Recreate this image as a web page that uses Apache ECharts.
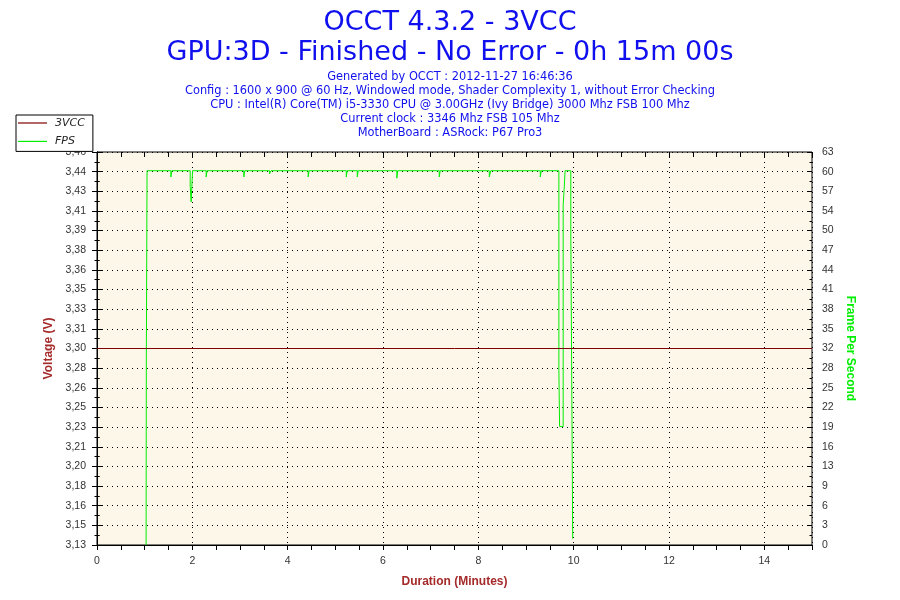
<!DOCTYPE html>
<html><head><meta charset="utf-8">
<script src="https://cdn.jsdelivr.net/npm/echarts@6/dist/echarts.min.js"></script>
<style>html,body{margin:0;padding:0;background:#fff}#c{width:900px;height:600px}</style>
</head><body><div id="c"></div>
<script>
// ---- data ----
const titleLines = ['OCCT 4.3.2 - 3VCC', 'GPU:3D - Finished - No Error - 0h 15m 00s'];
const infoLines = [
  'Generated by OCCT : 2012-11-27 16:46:36',
  'Config : 1600 x 900 @ 60 Hz, Windowed mode, Shader Complexity 1, without Error Checking',
  'CPU : Intel(R) Core(TM) i5-3330 CPU @ 3.00GHz (Ivy Bridge) 3000 Mhz FSB 100 Mhz',
  'Current clock : 3346 Mhz FSB 105 Mhz',
  'MotherBoard : ASRock: P67 Pro3'
];
const voltLabels = ['3,13','3,15','3,16','3,18','3,20','3,21','3,23','3,25','3,26','3,28','3,30',
                    '3,31','3,33','3,35','3,36','3,38','3,39','3,41','3,43','3,44','3,46'];
const fpsLabels = ['0','3','6','9','13','16','19','22','25','28','32','35','38','41','44','47','50','54','57','60','63'];
const xLabels = ['0','2','4','6','8','10','12','14'];

const voltTime = [0, 15];
const voltValues = [3.30, 3.30];

const fpsTime = [1.03, 1.035, 1.05, 1.55, 1.57, 1.955, 1.975, 1.99, 2.005, 2.29, 2.31, 3.08, 3.10,
  3.62, 3.65, 4.43, 4.45, 5.23, 5.25, 5.46, 5.48, 6.29, 6.31, 7.18, 7.20, 8.23, 8.26, 9.30, 9.32,
  9.69, 9.705, 9.78, 9.80, 9.82, 9.94, 9.965, 9.98];
const fpsValues = [0, 30, 60, 59, 60, 57.5, 55, 57.5, 60, 59, 60, 59, 60,
  59.5, 60, 59, 60, 59, 60, 59, 60, 58.8, 60, 59, 60, 59, 60, 59, 60,
  28, 19, 54.5, 57, 60, 50, 20, 1];

// ---- chart ----
const VMIN = 3.135, VMAX = 3.465, VINT = 0.0165;
const FMIN = 0, FMAX = 63, FINT = 3.15;
const blue = '#1010ee';
const red = '#a52a2a';
const tFont = 'DejaVu Sans';
const aFont = 'Liberation Sans';

function zip(a, b) { return a.map((v, i) => [v, b[i]]); }

const titles = [
  { text: titleLines[0], left: 'center', top: 9, padding: 0, textStyle: { fontSize: 27, fontWeight: 'normal', color: blue, fontFamily: tFont } },
  { text: titleLines[1], left: 'center', top: 39, padding: 0, textStyle: { fontSize: 27, fontWeight: 'normal', color: blue, fontFamily: tFont } }
];
infoLines.forEach((t, i) => titles.push({
  text: t, left: 'center', top: 72 + i * 14, padding: 0,
  textStyle: { fontSize: 11.4, fontWeight: 'normal', color: blue, fontFamily: tFont }
}));

const axLine = { show: true, lineStyle: { color: '#000', width: 1 } };
const dotted = { show: true, lineStyle: { color: '#000', width: 1, type: [1, 4] } };

function dupY(pos, min, max, intv) {
  return {
    type: 'value', position: pos, min: min, max: max, interval: intv,
    axisLine: { show: false }, axisLabel: { show: false }, splitLine: { show: false },
    axisTick: { show: true, inside: true, length: 5, lineStyle: { color: '#000' } },
    minorTick: { show: true, splitNumber: 2, length: 2.5, lineStyle: { color: '#000' } }
  };
}

const option = {
  animation: false,
  backgroundColor: '#fff',
  title: titles,
  legend: {
    orient: 'vertical', left: 16, top: 115,
    data: ['3VCC', 'FPS'],
    icon: 'rect', itemWidth: 29, itemHeight: 1.2, itemGap: 4.4,
    padding: [1, 8, 3, 2],
    backgroundColor: '#fff', borderColor: '#000', borderWidth: 1, borderRadius: 0,
    textStyle: { fontSize: 11, fontStyle: 'italic', color: '#222', fontFamily: tFont, lineHeight: 14, padding: [0, 0, 0, 3] }
  },
  grid: {
    left: 97, right: 88, top: 152, bottom: 55,
    show: true, backgroundColor: '#fdf7ea', borderColor: '#000', borderWidth: 1
  },
  xAxis: [
    {
      type: 'value', min: 0, max: 15, interval: 0.5,
      name: 'Duration (Minutes)', nameLocation: 'middle', nameGap: 31,
      nameTextStyle: { color: red, fontWeight: 'bold', fontSize: 12, fontFamily: aFont },
      axisLine: axLine,
      axisTick: { show: true, length: 5, lineStyle: { color: '#000' } },
      axisLabel: {
        color: '#333', fontSize: 10.5, fontFamily: aFont, margin: 11,
        formatter: v => {
          const k = Math.round(v);
          if (Math.abs(v - k) > 1e-6 || k % 2 !== 0) return '';
          return xLabels[k / 2] || '';
        }
      },
      splitLine: { show: false }
    },
    {
      type: 'value', min: 0, max: 15, interval: 2,
      axisLine: { show: false }, axisTick: { show: false }, axisLabel: { show: false },
      splitLine: dotted
    },
    {
      type: 'value', min: 0, max: 15, interval: 0.5,
      axisLine: { show: false }, axisLabel: { show: false }, splitLine: { show: false },
      axisTick: { show: true, inside: true, length: 5, lineStyle: { color: '#000' } }
    }
  ],
  yAxis: [
    {
      type: 'value', position: 'left', min: VMIN, max: VMAX, interval: VINT,
      name: 'Voltage (V)', nameLocation: 'middle', nameGap: 38, nameRotate: 90,
      nameTextStyle: { color: red, fontWeight: 'bold', fontSize: 12, fontFamily: aFont },
      axisLine: axLine,
      axisTick: { show: true, length: 5, lineStyle: { color: '#000' } },
      minorTick: { show: true, splitNumber: 2, length: 2.5, lineStyle: { color: '#000' } },
      axisLabel: {
        color: '#333', fontSize: 10.5, fontFamily: aFont, margin: 11,
        formatter: v => voltLabels[Math.round((v - VMIN) / VINT)] || ''
      },
      splitLine: dotted
    },
    {
      type: 'value', position: 'right', min: FMIN, max: FMAX, interval: FINT,
      name: 'Frame Per Second', nameLocation: 'middle', nameGap: 31, nameRotate: -90,
      nameTextStyle: { color: '#00ee00', fontWeight: 'bold', fontSize: 12, fontFamily: aFont },
      axisLine: axLine,
      axisTick: { show: true, length: 5, lineStyle: { color: '#000' } },
      minorTick: { show: true, splitNumber: 2, length: 2.5, lineStyle: { color: '#000' } },
      axisLabel: {
        color: '#333', fontSize: 10.5, fontFamily: aFont, margin: 10,
        formatter: v => fpsLabels[Math.round((v - FMIN) / FINT)] || ''
      },
      splitLine: { show: false }
    },
    dupY('left', VMIN, VMAX, VINT),
    dupY('right', FMIN, FMAX, FINT)
  ],
  series: [
    {
      name: 'FPS', type: 'line', xAxisIndex: 0, yAxisIndex: 1, step: 'end',
      data: zip(fpsTime, fpsValues), showSymbol: false, symbol: 'none',
      lineStyle: { color: '#00ee00', width: 1 }, itemStyle: { color: '#00ee00' }, z: 3
    },
    {
      name: '3VCC', type: 'line', xAxisIndex: 0, yAxisIndex: 0,
      data: zip(voltTime, voltValues), showSymbol: false, symbol: 'none',
      lineStyle: { color: '#800000', width: 1 }, itemStyle: { color: '#800000' }, z: 4
    }
  ]
};
const chart = echarts.init(document.getElementById('c'), null, { renderer: 'canvas' });
chart.setOption(option);
</script>
</body></html>
